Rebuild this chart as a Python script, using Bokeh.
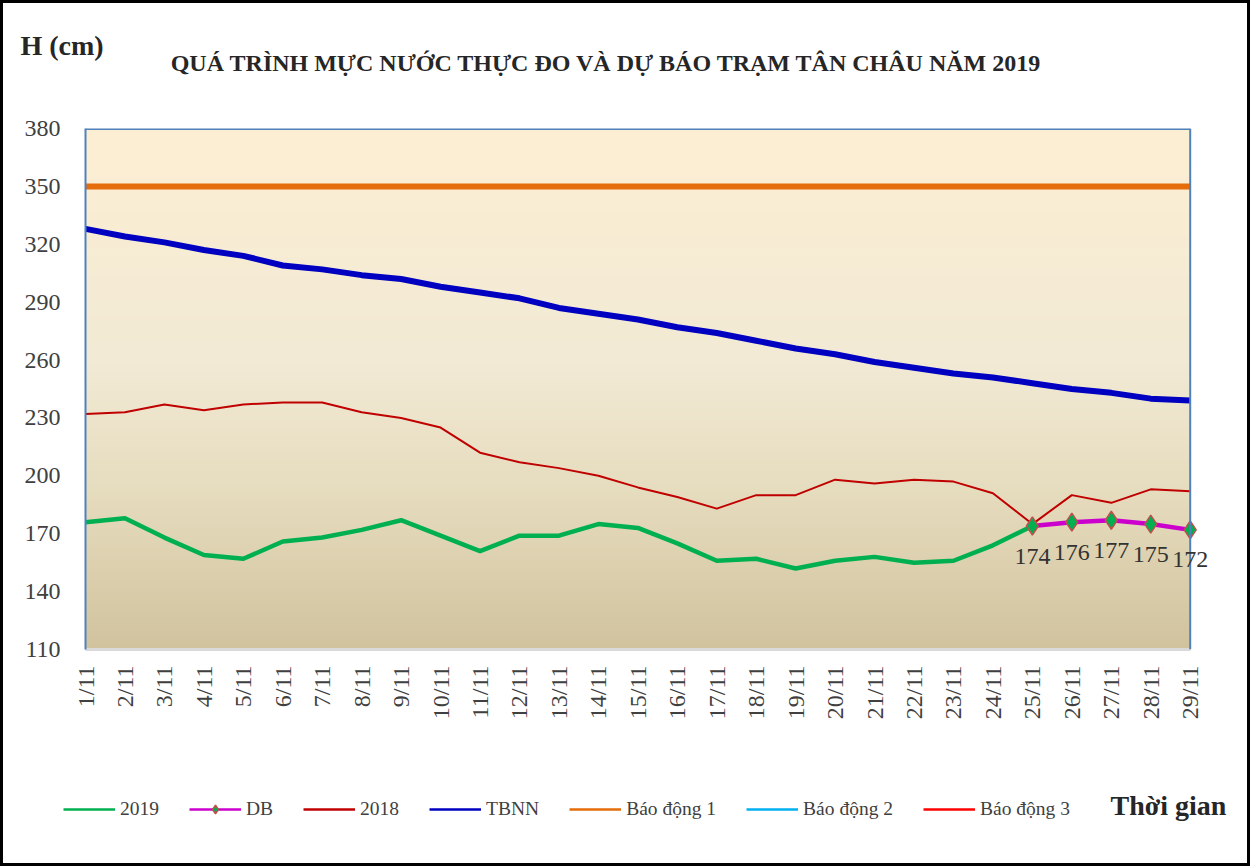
import numpy as np
from math import pi
from bokeh.plotting import figure
from bokeh.layouts import column, row
from bokeh.models import (Range1d, FixedTicker, Label, Legend, LegendItem,
                          ColumnDataSource, LabelSet, Span)
from bokeh.embed import file_html
from bokeh.resources import INLINE

# ---------------- data ----------------
dates = ["1/11", "2/11", "3/11", "4/11", "5/11", "6/11", "7/11", "8/11", "9/11",
         "10/11", "11/11", "12/11", "13/11", "14/11", "15/11", "16/11", "17/11",
         "18/11", "19/11", "20/11", "21/11", "22/11", "23/11", "24/11", "25/11",
         "26/11", "27/11", "28/11", "29/11"]

h2019 = [176, 178, 168, 159, 157, 166, 168, 172, 177, 169, 161, 169, 169, 175,
         173, 165, 156, 157, 152, 156, 158, 155, 156, 164, 174]

db_dates = ["25/11", "26/11", "27/11", "28/11", "29/11"]
db_values = [174, 176, 177, 175, 172]

h2018 = [232, 233, 237, 234, 237, 238, 238, 233, 230, 225, 212, 207, 204, 200,
         194, 189, 183, 190, 190, 198, 196, 198, 197, 191, 175, 190, 186, 193, 192]

tbnn = [328, 324, 321, 317, 314, 309, 307, 304, 302, 298, 295, 292, 287, 284,
        281, 277, 274, 270, 266, 263, 259, 256, 253, 251, 248, 245, 243, 240, 239]

bao_dong_1 = 350
bao_dong_2 = 400
bao_dong_3 = 450

y_ticks = [110, 140, 170, 200, 230, 260, 290, 320, 350, 380]

FONT = "Liberation Serif"
FRAME_BLUE = "#4F81BD"
C2019, CDB, C2018, CTB = "#00B050", "#CC00CC", "#C00000", "#0000C0"
CB1, CB2, CB3 = "#E46C0A", "#00B0F0", "#FF0000"

# ---------------- main figure ----------------
idx = list(range(len(dates)))
y_min, y_max = y_ticks[0], y_ticks[-1]
x_first, x_last = idx[0], idx[-1]
x_room = 0.92   # blank room right of the plot area so the last data label is not cut
x2019 = idx[:len(h2019)]
xdb = [dates.index(d) for d in db_dates]

p = figure(width=1244, height=737,
           x_range=Range1d(x_first, x_last + x_room), y_range=Range1d(y_min, y_max),
           output_backend="svg", toolbar_location=None,
           min_border_left=82, min_border_right=21,
           min_border_top=125, min_border_bottom=91)
p.border_fill_color = "white"
p.background_fill_color = "white"
p.outline_line_color = None
p.xgrid.visible = False
p.ygrid.visible = False

# gradient background of the plot area
N = 300
t = np.linspace(0, 1, N)
stops_t = [0.0, 0.3, 0.55, 1.0]
stops_c = np.array([[209, 195, 158], [230, 220, 190], [242, 234, 213], [253, 239, 211]])
img = np.zeros((N, 1), dtype=np.uint32)
view = img.view(dtype=np.uint8).reshape((N, 1, 4))
for k in range(3):
    view[:, 0, k] = np.interp(t, stops_t, stops_c[:, k]).astype(np.uint8)
view[:, 0, 3] = 255
p.image_rgba(image=[img], x=x_first, y=y_min, dw=x_last - x_first, dh=y_max - y_min,
             level="image")

# plot-area border (top and right)
p.segment(x0=[x_first], y0=[y_max], x1=[x_last], y1=[y_max],
          line_color=FRAME_BLUE, line_width=3)
p.add_layout(Span(location=x_last, dimension="height", line_color=FRAME_BLUE,
                  line_width=2))

# series
p.line(idx, [bao_dong_2] * len(idx), line_color=CB2, line_width=2)
p.line(idx, [bao_dong_3] * len(idx), line_color=CB3, line_width=2)
p.line(idx, [bao_dong_1] * len(idx), line_color=CB1, line_width=6)
p.line(idx, tbnn, line_color=CTB, line_width=6, line_join="round")
p.line(idx, h2018, line_color=C2018, line_width=2, line_join="round")
p.line(x2019, h2019, line_color=C2019, line_width=4.5, line_join="round")
p.line(xdb, db_values, line_color=CDB, line_width=4.5, line_join="round")
p.scatter(xdb, db_values, marker="diamond", size=18, fill_color=C2019,
          line_color="#C0504D", line_width=1.5)

src_lbl = ColumnDataSource(dict(x=xdb, y=db_values, t=[str(v) for v in db_values]))
p.add_layout(LabelSet(x="x", y="y", text="t", source=src_lbl, text_align="center",
                      text_baseline="middle", y_offset=-30, text_font=FONT,
                      text_font_size="24px", text_color="#333333"))

# axes
p.yaxis.ticker = FixedTicker(ticks=y_ticks)
p.yaxis.axis_line_color = FRAME_BLUE
p.yaxis.axis_line_width = 2
p.yaxis.major_tick_line_color = None
p.yaxis.minor_tick_line_color = None
p.yaxis.major_tick_out = 0
p.yaxis.major_tick_in = 0
p.yaxis.major_label_standoff = 25
p.yaxis.major_label_text_font = FONT
p.yaxis.major_label_text_font_size = "24px"
p.yaxis.major_label_text_color = "#404040"

p.xaxis.ticker = FixedTicker(ticks=idx)
p.xaxis.bounds = (x_first, x_last)
p.xaxis.major_label_overrides = {i: d for i, d in zip(idx, dates)}
p.xaxis.major_label_orientation = pi / 2
p.xaxis.axis_line_color = "#D9D9D9"
p.xaxis.axis_line_width = 3
p.xaxis.major_tick_line_color = None
p.xaxis.minor_tick_line_color = None
p.xaxis.major_tick_out = 0
p.xaxis.major_tick_in = 0
p.xaxis.major_label_standoff = 16
p.xaxis.major_label_text_font = FONT
p.xaxis.major_label_text_font_size = "24px"
p.xaxis.major_label_text_color = "#404040"

# texts (in a side panel so they are not clipped by the frame)
p.add_layout(Label(x=603, y=59, x_units="canvas", y_units="canvas",
                   text="QUÁ TRÌNH MỰC NƯỚC THỰC ĐO VÀ DỰ BÁO TRẠM TÂN CHÂU NĂM 2019",
                   text_font=FONT, text_font_style="bold", text_font_size="24px",
                   text_align="center", text_baseline="middle", text_color="#262626"),
             "above")
p.add_layout(Label(x=17, y=42, x_units="canvas", y_units="canvas",
                   text="H (cm)", text_font=FONT, text_font_style="bold",
                   text_font_size="28px", text_align="left", text_baseline="middle",
                   text_color="#262626"), "above")

# ---------------- legend strip ----------------
q = figure(width=1244, height=123, x_range=Range1d(0, 1), y_range=Range1d(0, 1),
           output_backend="svg", toolbar_location=None,
           x_axis_location=None, y_axis_location=None,
           min_border=0, min_border_left=0, min_border_right=0,
           min_border_top=0, min_border_bottom=0)
q.outline_line_color = None
q.xgrid.visible = False
q.ygrid.visible = False
q.border_fill_color = "white"
q.background_fill_color = "white"

# legend sample renderers (series lie outside this strip's ranges, only samples show)
l2019 = q.line(x2019, h2019, line_color=C2019, line_width=2.5)
ldb_l = q.line(xdb, db_values, line_color=CDB, line_width=2.5)
ldb_m = q.scatter(xdb, db_values, marker="diamond", size=15, fill_color=C2019,
                  line_color="#C0504D", line_width=1.5)
l2018 = q.line(idx, h2018, line_color=C2018, line_width=2.5)
ltb = q.line(idx, tbnn, line_color=CTB, line_width=2.5)
lb1 = q.line(idx, [bao_dong_1] * len(idx), line_color=CB1, line_width=2.5)
lb2 = q.line(idx, [bao_dong_2] * len(idx), line_color=CB2, line_width=2.5)
lb3 = q.line(idx, [bao_dong_3] * len(idx), line_color=CB3, line_width=2.5)

legend = Legend(items=[
    LegendItem(label="2019", renderers=[l2019]),
    LegendItem(label="DB", renderers=[ldb_l, ldb_m]),
    LegendItem(label="2018", renderers=[l2018]),
    LegendItem(label="TBNN", renderers=[ltb]),
    LegendItem(label="Báo động 1", renderers=[lb1]),
    LegendItem(label="Báo động 2", renderers=[lb2]),
    LegendItem(label="Báo động 3", renderers=[lb3]),
], orientation="horizontal", location=(60, 43), border_line_color=None,
    background_fill_alpha=0, glyph_width=52, glyph_height=22, label_standoff=5,
    spacing=30, padding=0, margin=0, label_text_font=FONT,
    label_text_font_size="19.5px", label_text_color="#404040",
    label_height=22)
q.add_layout(legend, "center")

q.add_layout(Label(x=1107, y=65, x_units="canvas", y_units="canvas",
                   text="Thời gian", text_font=FONT, text_font_style="bold",
                   text_font_size="28px", text_align="left", text_baseline="middle",
                   text_color="#262626"), "above")

layout = column(p, row(q), spacing=0)
layout.styles = {"border": "3px solid black"}

open("out.html", "w").write(file_html(layout, INLINE))
